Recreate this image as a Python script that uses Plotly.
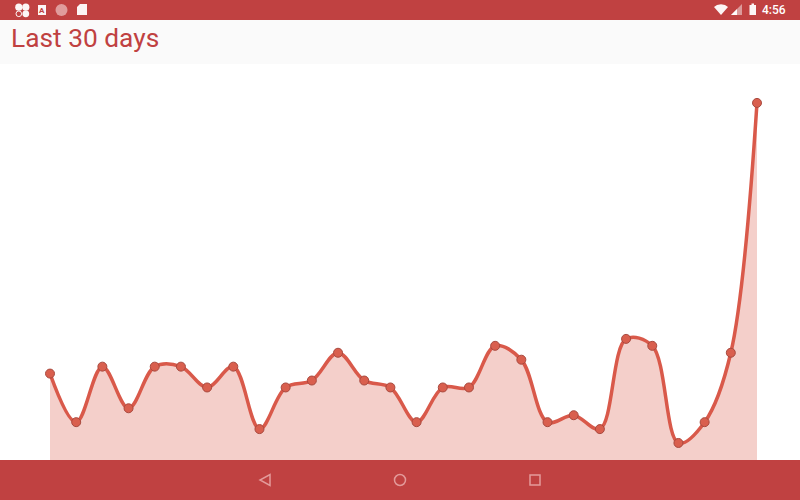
import plotly.graph_objects as go

# Data
days = list(range(1, 29))
values = [13, 6, 14, 8, 14, 14, 11, 14, 5, 11, 12, 16, 12, 11, 6, 11, 11, 17, 15, 6, 7, 5, 18, 17, 3, 6, 16, 52]
title_text = "Last 30 days"
clock_text = "4:56"

BAR = "#c04141"
LINE = "#d9594a"
W, H = 800, 500
ICON = "rgba(255,255,255,0.95)"
NAV = "#e39a9a"

def px_x(x):
    return x / W

def px_y(y):
    return 1 - y / H

def rect(x0, y0, x1, y1, color, layer="above"):
    return dict(type="rect", xref="paper", yref="paper", x0=px_x(x0), x1=px_x(x1), y0=px_y(y0), y1=px_y(y1),
                fillcolor=color, line_width=0, layer=layer)

def circle(cx, cy, r, fill, line=None, lw=0):
    return dict(type="circle", xref="paper", yref="paper", x0=px_x(cx - r), x1=px_x(cx + r), y0=px_y(cy - r), y1=px_y(cy + r),
                fillcolor=fill, line=dict(color=line or fill, width=lw), layer="above")

def poly(points, fill, line=None, lw=0):
    path = "M " + " L ".join(f"{px_x(x):.5f} {px_y(y):.5f}" for x, y in points) + " Z"
    return dict(type="path", xref="paper", yref="paper", path=path, fillcolor=fill,
                line=dict(color=line or fill, width=lw), layer="above")

def wifi():
    pts = [(714, 7), (717, 5), (721, 4.2), (725, 5), (728, 7), (721, 15)]
    return poly(pts, ICON)

shapes = [
    rect(0, 0, 800, 20, BAR),
    rect(0, 20, 800, 64, "#fafafa"),
    rect(0, 460, 800, 500, BAR),
    # clover icon
    circle(18.8, 7.2, 3.6, ICON), circle(25.8, 7.2, 3.6, ICON), circle(25.8, 13.8, 3.4, ICON),
    circle(18.8, 13.8, 2.8, "rgba(0,0,0,0)", ICON, 1),
    # A icon
    rect(38, 5, 46, 15, ICON),
    # pale disc
    circle(61.5, 10, 6, "#e09c9c"),
    # SD card
    poly([(80, 4), (87, 4), (87, 15), (77, 15), (77, 7)], ICON),
    # wifi
    wifi(),
    # signal
    poly([(731, 15), (742, 4), (742, 15)], "#dc9a9a"),
    poly([(731, 15), (737, 9), (737, 15)], ICON),
    # battery
    rect(749.5, 5, 756, 15, ICON),
    rect(751.5, 3.5, 754, 5, ICON),
    # nav buttons
    poly([(270, 474.5), (270, 485.5), (260, 480)], "rgba(0,0,0,0)", NAV, 1.5),
    circle(400, 480, 5.5, "rgba(0,0,0,0)", NAV, 1.5),
    dict(type="rect", xref="paper", yref="paper", x0=px_x(530), x1=px_x(540), y0=px_y(475), y1=px_y(485),
         fillcolor="rgba(0,0,0,0)", line=dict(color=NAV, width=1.5), layer="above"),
]

fig = go.Figure()
fig.add_trace(go.Scatter(
    x=days, y=values, mode="lines", fill="tozeroy", fillcolor="rgba(217,89,74,0.29)",
    line=dict(color=LINE, width=3.5, shape="spline", smoothing=1.0), hoverinfo="skip",
))
fig.add_trace(go.Scatter(
    x=days, y=values, mode="markers",
    marker=dict(size=9, color="#d95f4e", line=dict(color="#a8493e", width=1)), hoverinfo="skip",
))

# 26.185 px per day with day 1 at x=50; 6.94 px per unit with 0 at y=463.8
XS = 26.185
YS = 6.94
fig.update_layout(
    width=W, height=H, autosize=False,
    margin=dict(l=0, r=0, t=0, b=0),
    paper_bgcolor="white", plot_bgcolor="white", showlegend=False,
    xaxis=dict(visible=False, range=[1 - 50 / XS, 1 + 750 / XS]),
    yaxis=dict(visible=False, range=[-(500 - 463.8) / YS, 463.8 / YS]),
    shapes=shapes,
    annotations=[
        dict(text=title_text, xref="paper", yref="paper", x=px_x(8.5), y=px_y(38), xanchor="left", yanchor="middle",
             showarrow=False, font=dict(family="Roboto", size=26.3, color=BAR)),
        dict(text=clock_text, xref="paper", yref="paper", x=px_x(760), y=px_y(10), xanchor="left", yanchor="middle",
             showarrow=False, font=dict(family="Roboto", size=12, color="white", weight=500)),
        dict(text="A", xref="paper", yref="paper", x=px_x(42), y=px_y(10), xanchor="center", yanchor="middle",
             showarrow=False, font=dict(family="Roboto", size=8, color=BAR, weight=700)),
    ],
)
fig.write_html("out.html", config=dict(displayModeBar=False),
               post_script="document.documentElement.style.margin='0';document.body.style.margin='0';window.scrollTo(0,0);")
